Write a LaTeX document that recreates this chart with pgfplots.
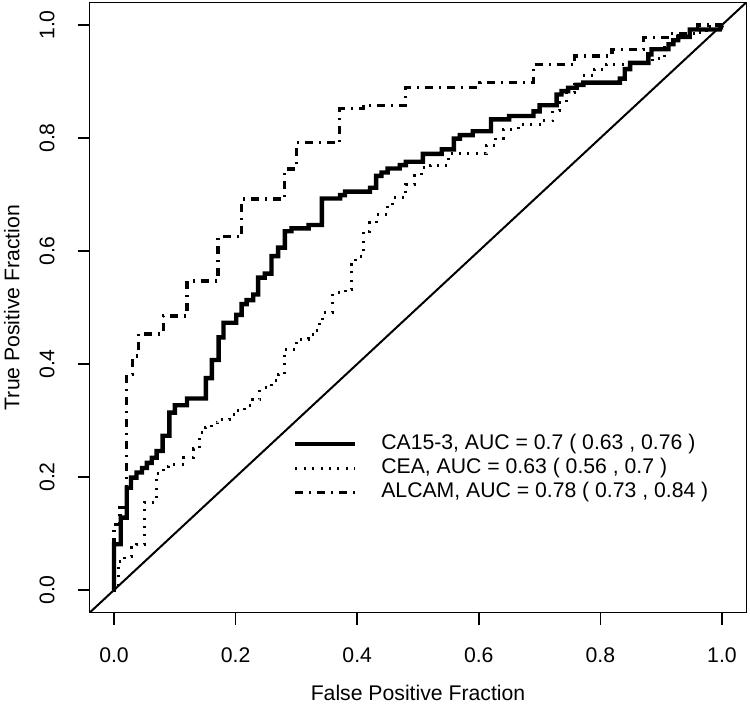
\documentclass[border=0pt]{standalone}
\usepackage{fontspec}
\setmainfont{Liberation Sans}
\usepackage{pgfplots}
\pgfplotsset{compat=1.18}
\begin{document}
\begin{tikzpicture}
\begin{axis}[
  name=ax,
  scale only axis,
  width=328.3pt, height=305.1pt,
  xmin=-0.04, xmax=1.04, ymin=-0.04, ymax=1.04,
  axis line style={line width=0.8pt},
  xtick={0,0.2,0.4,0.6,0.8,1}, ytick={0,0.2,0.4,0.6,0.8,1},
  xtick pos=bottom, ytick pos=left,
  tick align=outside, major tick length=6pt,
  every tick/.style={black, line width=0.8pt},
  /pgf/number format/assume math mode=true,
  tick label style={font=\fontsize{10.6}{12}\selectfont, /pgf/number format/fixed, /pgf/number format/fixed zerofill, /pgf/number format/precision=1},
  yticklabel style={rotate=90, anchor=south},
  xticklabel shift=8pt, yticklabel shift=8pt,
  label style={font=\fontsize{10.6}{12}\selectfont},
  xlabel={False Positive Fraction},
  ylabel={True Positive Fraction},
  xlabel style={at={(axis description cs:0.5,-0.1319)}, anchor=center},
  ylabel style={at={(axis description cs:-0.1188,0.5)}, anchor=center},
  legend cell align=left,
  legend style={draw=none, fill=none, at={(axis cs:0.294,0.280)}, anchor=north west,
    font=\fontsize{10.6}{12}\selectfont, inner sep=0pt, row sep=0pt,
    nodes={inner xsep=0pt, inner ysep=1pt, text height=7.6pt, text depth=2.4pt}},
  legend image code/.code={\draw[#1] (0pt,0pt) -- (30pt,0pt); \path[draw=none, fill=none] (0pt,-5pt) rectangle (43pt,5pt);},
]
\addplot[black, line width=1pt, forget plot] coordinates {(-0.04,-0.04) (1.04,1.04)};

\addplot[black, line width=2.2pt, line join=miter] coordinates {
(0,0) (0,0.081) (0.011,0.081) (0.011,0.128) (0.021,0.128) (0.021,0.181)
(0.028,0.181) (0.028,0.199) (0.037,0.199) (0.037,0.208) (0.046,0.208) (0.046,0.216)
(0.054,0.216) (0.054,0.225) (0.062,0.225) (0.062,0.234) (0.070,0.234) (0.070,0.246)
(0.080,0.246) (0.080,0.273) (0.091,0.273) (0.091,0.314) (0.100,0.314) (0.100,0.327)
(0.120,0.327) (0.120,0.339) (0.151,0.339) (0.151,0.375) (0.161,0.375) (0.161,0.407)
(0.172,0.407) (0.172,0.447) (0.180,0.447) (0.180,0.473) (0.201,0.473) (0.201,0.487)
(0.210,0.487) (0.210,0.506) (0.218,0.506) (0.218,0.513) (0.229,0.513) (0.229,0.523)
(0.237,0.523) (0.237,0.553) (0.248,0.553) (0.248,0.560) (0.259,0.560) (0.259,0.591)
(0.270,0.591) (0.270,0.606) (0.281,0.606) (0.281,0.635) (0.292,0.635) (0.292,0.640)
(0.320,0.640) (0.320,0.646) (0.342,0.646) (0.342,0.693) (0.372,0.693) (0.372,0.699)
(0.380,0.699) (0.380,0.705) (0.421,0.705) (0.421,0.712) (0.431,0.712) (0.431,0.733)
(0.440,0.733) (0.440,0.739) (0.450,0.739) (0.450,0.746) (0.470,0.746) (0.470,0.752)
(0.480,0.752) (0.480,0.758) (0.508,0.758) (0.508,0.772) (0.539,0.772) (0.539,0.780)
(0.559,0.780) (0.559,0.799) (0.569,0.799) (0.569,0.805) (0.590,0.805) (0.590,0.812)
(0.620,0.812) (0.620,0.833) (0.650,0.833) (0.650,0.839) (0.690,0.839) (0.690,0.847)
(0.700,0.847) (0.700,0.858) (0.728,0.858) (0.728,0.877) (0.736,0.877) (0.736,0.883)
(0.747,0.883) (0.747,0.889) (0.761,0.889) (0.761,0.894) (0.772,0.894) (0.772,0.898)
(0.832,0.898) (0.832,0.905) (0.840,0.905) (0.840,0.922) (0.849,0.922) (0.849,0.933)
(0.879,0.933) (0.879,0.948) (0.884,0.948) (0.884,0.957) (0.912,0.957) (0.912,0.966)
(0.920,0.966) (0.920,0.973) (0.928,0.973) (0.928,0.979) (0.947,0.979) (0.947,0.992)
(0.997,0.992) (1,1)
};
\addlegendentry{CA15-3, AUC = 0.7 ( 0.63 , 0.76 )}

\addplot[black, line width=1.5pt, dash pattern=on 1pt off 3.2pt] coordinates {
(0,0) (0.007,0) (0.007,0.051) (0.018,0.051) (0.018,0.060) (0.029,0.060) (0.029,0.076)
(0.037,0.076) (0.037,0.081) (0.050,0.081) (0.050,0.155) (0.070,0.155) (0.070,0.207)
(0.081,0.207) (0.081,0.218) (0.090,0.218) (0.090,0.222) (0.115,0.222) (0.115,0.234)
(0.130,0.234) (0.130,0.250) (0.140,0.250) (0.140,0.278) (0.150,0.278) (0.150,0.287)
(0.160,0.287) (0.160,0.296) (0.170,0.296) (0.170,0.302) (0.190,0.302) (0.190,0.310)
(0.200,0.310) (0.200,0.318) (0.215,0.318) (0.215,0.326) (0.228,0.326) (0.228,0.337)
(0.240,0.337) (0.240,0.358) (0.259,0.358) (0.259,0.370) (0.270,0.370) (0.270,0.382)
(0.280,0.382) (0.280,0.426) (0.300,0.426) (0.300,0.444) (0.320,0.444) (0.320,0.453)
(0.330,0.453) (0.330,0.460) (0.338,0.460) (0.338,0.473) (0.343,0.473) (0.343,0.491)
(0.359,0.491) (0.359,0.526) (0.380,0.526) (0.380,0.532) (0.391,0.532) (0.391,0.576)
(0.398,0.576) (0.398,0.591) (0.410,0.591) (0.410,0.635) (0.421,0.635) (0.421,0.650)
(0.432,0.650) (0.432,0.665) (0.450,0.665) (0.450,0.680) (0.458,0.680) (0.458,0.694)
(0.480,0.694) (0.480,0.718) (0.495,0.718) (0.495,0.733) (0.505,0.733) (0.505,0.747)
(0.520,0.747) (0.520,0.752) (0.550,0.752) (0.550,0.772) (0.612,0.772) (0.612,0.786)
(0.628,0.786) (0.628,0.800) (0.640,0.800) (0.640,0.815) (0.665,0.815) (0.665,0.824)
(0.705,0.824) (0.705,0.831) (0.722,0.831) (0.722,0.848) (0.732,0.848) (0.732,0.862)
(0.745,0.862) (0.745,0.880) (0.758,0.880) (0.758,0.898) (0.770,0.898) (0.770,0.910)
(0.790,0.910) (0.790,0.922) (0.810,0.922) (0.810,0.930) (0.850,0.930) (0.850,0.933)
(0.885,0.933) (0.885,0.940) (0.905,0.940) (0.905,0.966) (0.922,0.966) (0.922,0.981)
(0.940,0.981) (0.940,0.987) (0.975,0.987) (0.975,0.998) (1,0.998) (1,1)
};
\addlegendentry{CEA, AUC = 0.63 ( 0.56 , 0.7 )}

\addplot[black, line width=1.6pt, dash pattern=on 4pt off 3pt on 1pt off 3pt] coordinates {
(0,0) (0,0.116) (0.010,0.116) (0.010,0.146) (0.021,0.146) (0.021,0.382) (0.031,0.382)
(0.031,0.414) (0.040,0.414) (0.040,0.453) (0.081,0.453) (0.081,0.485) (0.120,0.485)
(0.120,0.547) (0.171,0.547) (0.171,0.625) (0.210,0.625) (0.210,0.692) (0.281,0.692)
(0.281,0.745) (0.300,0.745) (0.300,0.792) (0.371,0.792) (0.371,0.852) (0.410,0.852)
(0.410,0.858) (0.480,0.858) (0.480,0.890) (0.602,0.890) (0.602,0.898) (0.690,0.898)
(0.690,0.930) (0.758,0.930) (0.758,0.945) (0.819,0.945) (0.819,0.957) (0.871,0.957)
(0.871,0.978) (0.914,0.978) (0.914,0.985) (0.960,0.985) (0.960,1) (1,1)
};
\addlegendentry{ALCAM, AUC = 0.78 ( 0.73 , 0.84 )}
\end{axis}
\pgfresetboundingbox
\path ([shift={(-44.85pt,-45.2pt)}]ax.south west) rectangle ([shift={(1.85pt,1.2pt)}]ax.north east);
\end{tikzpicture}
\end{document}
